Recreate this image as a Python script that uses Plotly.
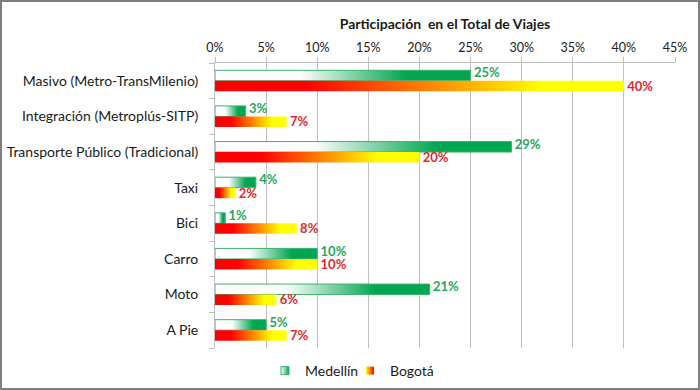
import plotly.graph_objects as go

categories = ["Masivo (Metro-TransMilenio)", "Integración (Metroplús-SITP)",
              "Transporte Público (Tradicional)", "Taxi", "Bici", "Carro", "Moto", "A Pie"]
medellin = [25, 3, 29, 4, 1, 10, 21, 5]
bogota = [40, 7, 20, 2, 8, 10, 6, 7]
x_ticks = [0, 5, 10, 15, 20, 25, 30, 35, 40, 45]

FONT = "Lato"
W, H = 700, 390
ML, MR, MT, MB = 215, 25, 63, 42
PW, PH = W - ML - MR, H - MT - MB

BAR_H = 0.295
GREEN = "#00A650"
GREEN_TXT = "#1FA85A"
RED_TXT = "#DE2A2A"
TXT = "#1a1a1a"

green_scale = [[0, "#FFFFFF"], [0.33, "#FFFFFF"], [0.75, "#00A650"], [1, "#00A650"]]
red_scale = [[0, "#FF0000"], [0.22, "#FF0000"], [0.8, "#FFFF00"], [1, "#FFFF00"]]

fig = go.Figure()


def bar_trace(value, center, scale, line_w, line_c):
    y0, y1 = center - BAR_H / 2, center + BAR_H / 2
    return go.Scatter(
        x=[0, value, value, 0, 0], y=[y0, y0, y1, y1, y0],
        mode="lines", fill="toself",
        fillgradient=dict(type="horizontal", colorscale=scale),
        line=dict(width=line_w, color=line_c),
        showlegend=False, hoverinfo="skip")


for i, (m, b) in enumerate(zip(medellin, bogota)):
    fig.add_trace(bar_trace(m, i - BAR_H / 2, green_scale, 1, "#3DB26E"))
    fig.add_trace(bar_trace(b, i + BAR_H / 2, red_scale, 0, "rgba(0,0,0,0)"))

idx = list(range(len(categories)))
fig.add_trace(go.Scatter(
    x=medellin, y=[i - BAR_H / 2 - 0.04 for i in idx], mode="text",
    text=[f"&nbsp;<b>{v}%</b>" for v in medellin], textposition="middle right",
    textfont=dict(family=FONT, size=13, color=GREEN_TXT),
    showlegend=False, hoverinfo="skip", cliponaxis=False))
fig.add_trace(go.Scatter(
    x=bogota, y=[i + BAR_H / 2 + 0.04 for i in idx], mode="text",
    text=[f"&nbsp;<b>{v}%</b>" for v in bogota], textposition="middle right",
    textfont=dict(family=FONT, size=13, color=RED_TXT),
    showlegend=False, hoverinfo="skip", cliponaxis=False))

# legend entries
fig.add_trace(go.Scatter(
    x=[None], y=[None], mode="markers", name="Medellín",
    marker=dict(symbol="square", size=8, color="#FFFFFF",
                gradient=dict(type="horizontal", color="#00A650"),
                line=dict(width=1, color="#3DB26E"))))
fig.add_trace(go.Scatter(
    x=[None], y=[None], mode="markers", name="Bogotá",
    marker=dict(symbol="square", size=8, color="#FFFF00",
                gradient=dict(type="horizontal", color="#FF0000"),
                line=dict(width=0))))


def px_x(px):
    return (px - ML) / PW


def px_y(py):
    return (H - MB - py) / PH


fig.update_layout(
    width=W, height=H,
    margin=dict(l=ML, r=MR, t=MT, b=MB, autoexpand=False),
    paper_bgcolor="white", plot_bgcolor="white",
    font=dict(family=FONT, size=14, color=TXT),
    xaxis=dict(
        side="top", range=[0, 45], tickvals=x_ticks,
        ticktext=[f"{t}%" for t in x_ticks],
        showgrid=True, gridcolor="#BFBFBF", gridwidth=1,
        showline=True, linecolor="#BFBFBF", linewidth=1,
        ticks="outside", ticklen=5, tickcolor="#BFBFBF",
        zeroline=False, fixedrange=True,
        tickfont=dict(size=12.5, color=TXT),
        title=dict(text="<b>Participación  en el Total de Viajes</b>",
                   font=dict(size=14, color=TXT), standoff=7),
    ),
    yaxis=dict(
        range=[len(categories) - 0.5, -0.5],
        tickvals=idx, ticktext=categories,
        showgrid=False, zeroline=False, fixedrange=True,
        showline=True, linecolor="#BFBFBF", linewidth=1,
        ticks="outside", ticklen=5, tickcolor="rgba(0,0,0,0)",
        ticklabelstandoff=8,
        minor=dict(tickvals=[i - 0.5 for i in range(len(categories) + 1)],
                   ticks="outside", ticklen=5, tickcolor="#BFBFBF", showgrid=False),
        tickfont=dict(size=14, color=TXT),
    ),
    legend=dict(orientation="h", x=px_x(265), xanchor="left",
                y=px_y(371), yanchor="middle",
                font=dict(size=14, color=TXT),
                itemwidth=30, tracegroupgap=0, entrywidth=40),
    shapes=[dict(type="rect", xref="paper", yref="paper",
                 x0=px_x(1), x1=px_x(699), y0=px_y(389), y1=px_y(1),
                 line=dict(color="#7F7F7F", width=2), layer="above")],
)

fig.write_html("out.html", config={"displayModeBar": False},
               post_script="document.body.style.margin='0';")
